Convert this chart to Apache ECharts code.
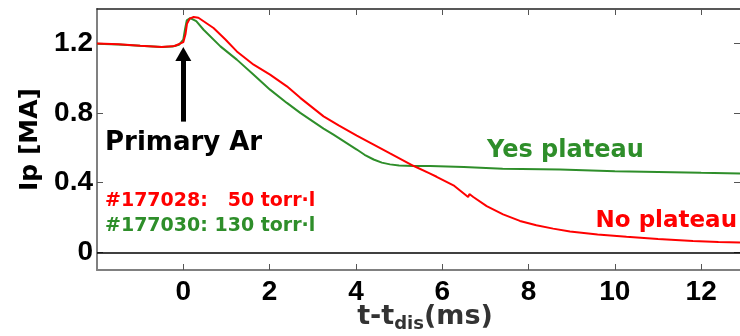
<!DOCTYPE html>
<html>
<head>
<meta charset="utf-8">
<script src="https://cdn.jsdelivr.net/npm/echarts@6/dist/echarts.min.js"></script>
<style>
  html, body { margin: 0; padding: 0; background: #fff; }
  #main { width: 740px; height: 336px; }
</style>
</head>
<body>
<div id="main"></div>
<script>
// shot #177028 (50 torr-l), red
var tRed = [-2.0, -1.5, -1.0, -0.5, -0.2, 0.0, 0.05, 0.085, 0.15, 0.24, 0.35, 0.7, 0.97, 1.24, 1.63, 2.01, 2.4, 2.71,
  3.25, 3.6, 4.02, 4.4, 4.79, 5.33, 5.72, 5.87, 6.26, 6.6, 6.63, 6.72, 7.03, 7.41, 7.8, 8.18, 8.57, 8.96,
  9.6, 10.27, 11.0, 11.81, 12.4, 12.9];
var ipRed = [1.198, 1.193, 1.185, 1.178, 1.183, 1.205, 1.25, 1.31, 1.34, 1.349, 1.345, 1.286, 1.222, 1.152, 1.076, 1.019, 0.952, 0.886,
  0.78, 0.728, 0.67, 0.62, 0.568, 0.497, 0.452, 0.434, 0.385, 0.318, 0.335, 0.318, 0.266, 0.219, 0.181, 0.156, 0.137, 0.12,
  0.104, 0.091, 0.078, 0.066, 0.061, 0.057];

// shot #177030 (130 torr-l), green
var tGreen = [-2.0, -1.5, -1.0, -0.5, -0.25, -0.1, 0.0, 0.04, 0.08, 0.16, 0.3, 0.47, 0.86, 1.24, 1.63, 2.01, 2.4, 2.71,
  3.25, 3.48, 4.02, 4.2, 4.41, 4.6, 4.79, 5.0, 5.33, 5.72, 6.5, 7.4, 8.73, 10.0, 11.0, 12.0, 12.9];
var ipGreen = [1.196, 1.192, 1.184, 1.177, 1.18, 1.19, 1.22, 1.28, 1.33, 1.343, 1.325, 1.276, 1.181, 1.105, 1.019, 0.933, 0.857, 0.8,
  0.71, 0.675, 0.59, 0.56, 0.533, 0.515, 0.505, 0.499, 0.495, 0.495, 0.49, 0.48, 0.476, 0.466, 0.462, 0.457, 0.453];

var xTicks = [0, 2, 4, 6, 8, 10, 12];
var yTicks = [0, 0.4, 0.8, 1.2];

var RED = '#ff0000';
var GREEN = '#2e8e2a';

function pairs(xs, ys) {
  return xs.map(function (x, i) { return [x, ys[i]]; });
}

var myChart = echarts.init(document.getElementById('main'));

var tickFont = { fontFamily: 'Liberation Sans', fontWeight: 'bold', fontSize: 28, color: '#000' };

myChart.setOption({
  animation: false,
  grid: { left: 97, top: 9, right: 0, bottom: 66, outerBoundsMode: 'none' },
  xAxis: [{
    type: 'value', min: -2, max: 12.9,
    axisLine: { onZero: false, lineStyle: { color: '#808080', width: 2 } },
    axisTick: { inside: true, length: 6, customValues: xTicks, lineStyle: { color: '#555' } },
    axisLabel: Object.assign({ customValues: xTicks, margin: 8 }, tickFont),
    splitLine: { show: false }
  }, {
    type: 'value', min: -2, max: 12.9, position: 'top',
    axisLine: { onZero: false, lineStyle: { color: '#222', width: 1.5 } },
    axisTick: { inside: true, length: 6, customValues: xTicks, lineStyle: { color: '#555' } },
    axisLabel: { show: false },
    splitLine: { show: false }
  }],
  yAxis: [{
    type: 'value', min: -0.1, max: 1.395,
    name: 'Ip [MA]',
    nameLocation: 'middle', nameGap: 52,
    nameTextStyle: { fontFamily: 'DejaVu Sans', fontWeight: 'bold', fontSize: 25, color: '#000' },
    axisLine: { onZero: false, lineStyle: { color: '#808080', width: 2 } },
    axisTick: { inside: true, length: 6, customValues: yTicks, lineStyle: { color: '#555' } },
    axisLabel: Object.assign({ customValues: yTicks, margin: 4 }, tickFont),
    splitLine: { show: false }
  }, {
    type: 'value', min: -0.1, max: 1.395, position: 'right',
    axisLine: { onZero: false, lineStyle: { color: '#808080', width: 1 } },
    axisTick: { inside: true, length: 6, customValues: yTicks, lineStyle: { color: '#555' } },
    axisLabel: { show: false },
    splitLine: { show: false }
  }],
  series: [{
    name: '#177030',
    type: 'line',
    data: pairs(tGreen, ipGreen),
    showSymbol: false,
    lineStyle: { color: GREEN, width: 2 },
    markLine: {
      silent: true,
      symbol: 'none',
      label: { show: false },
      lineStyle: { color: '#000', width: 1.5, type: 'solid' },
      data: [{ yAxis: 0 }]
    }
  }, {
    name: '#177028',
    type: 'line',
    data: pairs(tRed, ipRed),
    showSymbol: false,
    lineStyle: { color: RED, width: 2 },
    markLine: {
      silent: true,
      symbol: ['none', 'triangle'],
      symbolSize: [16, 14],
      label: { show: false },
      lineStyle: { color: '#000', width: 5, type: 'solid' },
      data: [[{ coord: [0, 0.75] }, { coord: [0, 1.137] }]]
    }
  }],
  graphic: [
    // x axis title with subscript
    { type: 'text', style: {
        text: '{a|t-t}{b|dis}{a|(ms)}', x: 425, y: 303, align: 'center', verticalAlign: 'top',
        rich: {
          a: { fontFamily: 'DejaVu Sans', fontWeight: 'bold', fontSize: 27, fill: '#333', lineHeight: 30, verticalAlign: 'top' },
          b: { fontFamily: 'DejaVu Sans', fontWeight: 'bold', fontSize: 18, fill: '#333', lineHeight: 10, verticalAlign: 'bottom' }
        }
    } },
    { type: 'text', style: { text: 'Primary Ar', x: 105, y: 143, verticalAlign: 'middle', font: 'bold 26px "DejaVu Sans"', fill: '#000' } },
    { type: 'text', style: { text: '#177028:   50 torr\u00b7l', x: 105, y: 201, verticalAlign: 'middle', font: 'bold 19px "DejaVu Sans"', fill: RED } },
    { type: 'text', style: { text: '#177030: 130 torr\u00b7l', x: 105, y: 226, verticalAlign: 'middle', font: 'bold 19px "DejaVu Sans"', fill: GREEN } },
    { type: 'text', style: { text: 'Yes plateau', x: 487, y: 151, verticalAlign: 'middle', font: 'bold 24px "DejaVu Sans"', fill: GREEN } },
    { type: 'text', style: { text: 'No plateau', x: 737, y: 221, align: 'right', verticalAlign: 'middle', font: 'bold 23px "DejaVu Sans"', fill: RED } }
  ]
});
</script>
</body>
</html>
